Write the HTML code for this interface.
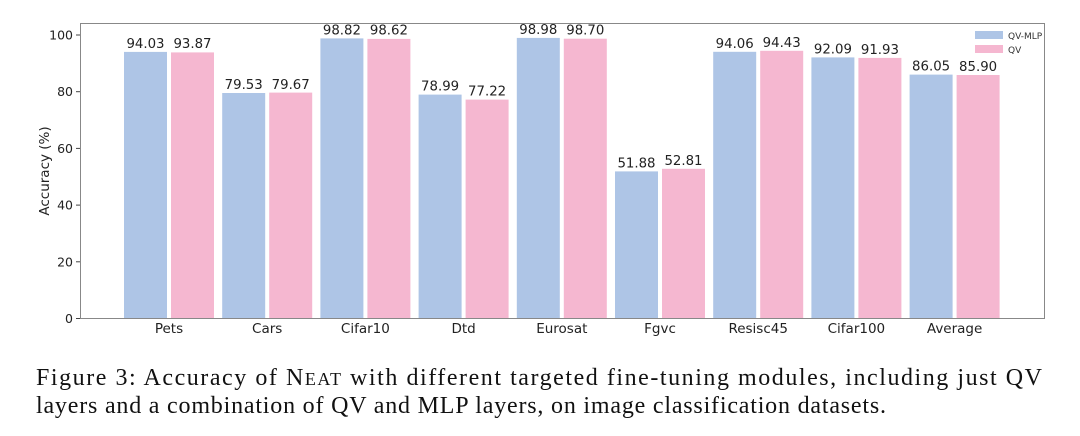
<!DOCTYPE html>
<html><head><style>body{margin:0;background:#fff}svg{display:block}</style></head><body>
<svg width="1080" height="436" xmlns="http://www.w3.org/2000/svg" font-family="DejaVu Sans, Liberation Sans, sans-serif">
<rect width="1080" height="436" fill="#fff"/>
<g fill="#aec5e6">
<rect x="124" y="51.9" width="43" height="266.6"/>
<rect x="222.2" y="93" width="43" height="225.5"/>
<rect x="320.4" y="38.4" width="43" height="280.1"/>
<rect x="418.6" y="94.6" width="43" height="223.9"/>
<rect x="516.8" y="37.9" width="43" height="280.6"/>
<rect x="615" y="171.4" width="43" height="147.1"/>
<rect x="713.2" y="51.8" width="43" height="266.7"/>
<rect x="811.4" y="57.4" width="43" height="261.1"/>
<rect x="909.6" y="74.6" width="43" height="243.9"/>
</g>
<g fill="#f5b7d0">
<rect x="171" y="52.4" width="43" height="266.1"/>
<rect x="269.2" y="92.6" width="43" height="225.9"/>
<rect x="367.4" y="38.9" width="43" height="279.6"/>
<rect x="465.6" y="99.6" width="43" height="218.9"/>
<rect x="563.8" y="38.7" width="43" height="279.8"/>
<rect x="662" y="168.8" width="43" height="149.7"/>
<rect x="760.2" y="50.8" width="43" height="267.7"/>
<rect x="858.4" y="57.9" width="43" height="260.6"/>
<rect x="956.6" y="75" width="43" height="243.5"/>
</g>
<g font-size="13.3" text-anchor="middle" fill="#222">
<text x="145.5" y="48">94.03</text><text x="192.5" y="48">93.87</text>
<text x="243.7" y="89">79.53</text><text x="290.7" y="89">79.67</text>
<text x="341.9" y="34.5">98.82</text><text x="388.9" y="34.5">98.62</text>
<text x="440.1" y="90.5">78.99</text><text x="487.1" y="95.5">77.22</text>
<text x="538.3" y="34">98.98</text><text x="585.3" y="34.5">98.70</text>
<text x="636.5" y="167.5">51.88</text><text x="683.5" y="164.8">52.81</text>
<text x="734.7" y="47.8">94.06</text><text x="781.7" y="46.8">94.43</text>
<text x="832.9" y="53.4">92.09</text><text x="879.9" y="53.9">91.93</text>
<text x="931.1" y="70.5">86.05</text><text x="978.1" y="71">85.90</text>
</g>
<g font-size="13.5" text-anchor="middle" fill="#222">
<text x="169" y="333">Pets</text><text x="267.2" y="333">Cars</text><text x="365.4" y="333">Cifar10</text>
<text x="463.6" y="333">Dtd</text><text x="561.8" y="333">Eurosat</text><text x="660" y="333">Fgvc</text>
<text x="758.2" y="333">Resisc45</text><text x="856.4" y="333">Cifar100</text><text x="954.6" y="333">Average</text>
</g>
<g stroke="#444">
<line x1="76" x2="80" y1="318.5" y2="318.5"/><line x1="76" x2="80" y1="261.8" y2="261.8"/>
<line x1="76" x2="80" y1="205.1" y2="205.1"/><line x1="76" x2="80" y1="148.4" y2="148.4"/>
<line x1="76" x2="80" y1="91.7" y2="91.7"/><line x1="76" x2="80" y1="35" y2="35"/>
</g>
<g font-size="12.5" text-anchor="end" fill="#222">
<text x="73" y="323">0</text><text x="73" y="266.3">20</text><text x="73" y="209.6">40</text>
<text x="73" y="152.9">60</text><text x="73" y="96.2">80</text><text x="73" y="39.5">100</text>
</g>
<rect x="80.5" y="23.5" width="964" height="295" fill="none" stroke="#888" stroke-width="1"/>
<text transform="translate(49,171) rotate(-90)" font-size="13.5" text-anchor="middle" fill="#222">Accuracy (%)</text>
<rect x="975" y="31" width="28" height="8" fill="#aec5e6"/><text x="1008" y="39" font-size="9" fill="#333">QV-MLP</text>
<rect x="975" y="45" width="28" height="8" fill="#f5b7d0"/><text x="1008" y="53" font-size="9" fill="#333">QV</text>
<text x="36" y="385" font-family="Liberation Serif, serif" font-size="24" fill="#111" textLength="1006" lengthAdjust="spacing">Figure 3:  Accuracy of N<tspan font-size="18">EAT</tspan> with different targeted fine-tuning modules, including just QV</text>
<text x="36" y="413" font-family="Liberation Serif, serif" font-size="24" fill="#111" textLength="850" lengthAdjust="spacing">layers and a combination of QV and MLP layers, on image classification datasets.</text>
</svg>
</body></html>
